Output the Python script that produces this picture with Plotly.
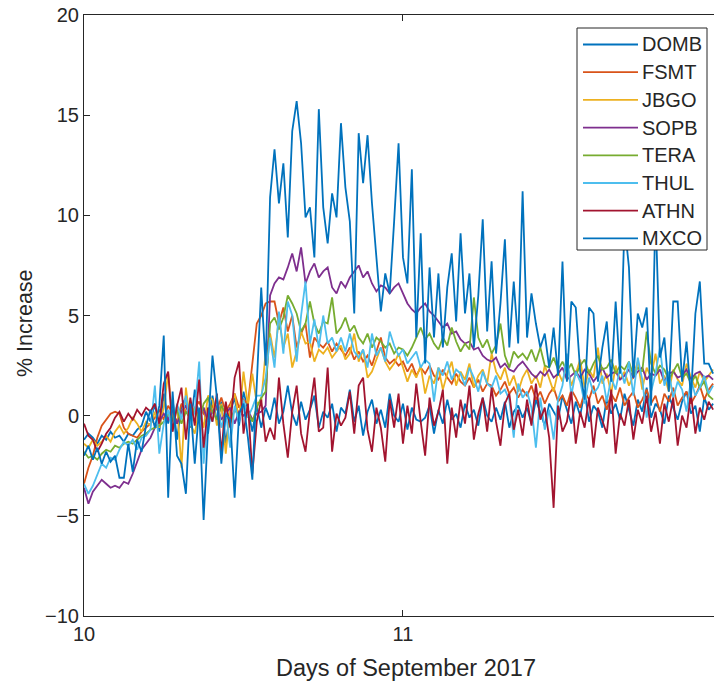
import numpy as np
import plotly.graph_objects as go

# Sampling grid: readings every 20 minutes starting at day 10
DAY0 = 10
SAMPLES_PER_DAY = 72

stations = ["DOMB", "FSMT", "JBGO", "SOPB", "TERA", "THUL", "ATHN", "MXCO"]
colors = ["#0072BD", "#D95319", "#EDB120", "#7E2F8E", "#77AC30", "#4DBEEE", "#A2142F", "#0072BD"]

x_ticks = [10, 11]
y_ticks = [-10, -5, 0, 5, 10, 15, 20]

# % increase per station
domb = [-1.2, -0.9, -1.1, -1.4, -1.0, -1.2, -0.8, -1.1, -1.0, -1.3, -0.9, -1.0, -0.7,
        -0.5, 0.2, -0.3, 0.6, -0.8, 1.1, -0.4, 0.8, -1.2, 0.5, 0.9, -0.6, 1.3, -0.2, 0.4, -0.9, 1.0,
        -0.3, 0.7, -1.4, 0.2, 0.9, -0.5, 1.2, 0.3, -0.8, 0.5,
        -0.6, 0.4, -0.2, 0.9, -0.4, 0.2, 1.5, 0.1, -0.5, 0.7, -0.2, 0.3, 1.0, -0.6, 0.2, -0.1, 0.6, -0.8, 0.4, 0.1,
        1.3, -0.3, 0.5, -1.0, 0.2, 0.8, -0.4, 0.3, -0.6, 1.1, 0.0, -0.3, 0.6, -0.7, 0.4, -0.2, -0.3, -0.1, 0.5, -0.9,
        0.3, -0.4, 0.8, -0.2, 0.1, -0.6, 0.6, -0.1, 0.3, -0.5, 0.9, 0.0, -0.3, 0.4, -0.2, 0.7, -0.6, 0.2, 0.5, -0.1,
        0.4, -0.4, 0.8, 0.1, -0.5, 0.6, 0.2, -0.2, 1.0, 0.3, -0.4, 0.7, 0.0, 1.2, -0.3, 0.5, 0.2, -0.6, 0.9, 0.1,
        0.6, -0.2, 1.1, 0.3, -0.5, 0.8, 0.2, 1.4, -0.1, 0.6, 0.3, -0.4, 1.0, 0.4, -0.2, 0.7, 1.2, 0.1, 0.5, -0.8,
        0.9, 0.3, 0.6]

fsmt = [-3.4, -2.6, -2.0, -1.1, -0.5, -0.2, 0.1, 0.2, 0.1, -0.6, -0.9, -1.0, -1.1, -0.8, -0.6,
        -0.4, -0.1, 0.3, -0.2, 0.5, 0.1, -0.3, 0.6, 0.2, -0.1, 0.4, 0.7, 0.1, -0.2, 0.5, 0.3, 0.9, 0.2, 0.6, 1.1,
        0.4, 0.8, 0.6, 2.6, 4.6,
        5.0, 5.6, 5.7, 5.7, 4.6, 5.4, 4.2, 5.0, 3.4, 4.1, 4.6, 2.9, 3.9, 3.6, 3.4, 3.7, 3.2, 3.6, 3.3, 3.0,
        3.4, 2.8, 3.2, 2.7, 3.0, 2.5, 3.2, 3.9, 2.9, 2.6,
        2.8, 2.5, 2.7, 2.2, 2.6, 2.0, 2.4, 2.1, 2.5, 2.0, 1.8, 2.3, 1.9, 1.6, 2.1, 1.7, 1.5, 1.9, 1.4, 1.8,
        1.2, 1.6, 1.5, 1.0, 1.3, 1.7, 1.1, 1.4, 0.9, 1.3,
        1.0, 1.5, 0.8, 1.2, 0.6, 1.1, 1.4, 0.7, 1.0, 0.5, 1.3, 0.9, 0.4, 1.2, 0.8, 1.5, 0.6, 1.0, 0.3, 1.1,
        0.7, 1.4, 0.5, 0.9, 1.2, 0.4, 0.8, 1.3, 0.6, 1.0, 0.2, 1.1, 0.7, 1.4, 0.5, 0.9, 1.2, 0.6, 1.0, 1.5,
        0.8, 1.3, 1.6]

jbgo = [-1.4, -1.6, -1.2, -1.5, -1.3, -1.0, -1.3, -0.8, -0.5, -0.9, -0.6, -0.1, -0.4, -0.8, -0.3,
        -0.5, 0.2, -0.6, 0.4, 2.1, -0.3, 0.5, -2.6, 1.4, -0.4, -0.9, 0.3, -0.6, 1.0, 0.8, -0.5, 0.6, -1.9, 0.4, 1.1,
        -0.2, 2.2, 0.5, 2.1, 0.6,
        0.7, 3.2, 4.1, 2.9, 4.9, 3.4, 4.1, 2.4, 3.2, 4.2, 3.6, 3.7, 2.7, 3.3, 3.1, 3.4, 2.9, 3.2, 3.5, 2.8,
        3.1, 4.1, 2.7, 3.3, 1.9, 2.2, 2.8, 3.4, 2.7, 2.3,
        2.6, 3.1, 2.4, 1.7, 2.3, 1.9, 2.5, 1.1, 2.0, 1.6, 2.4, 1.3, 2.1, 2.7, 1.5, 2.2, 1.8, 2.6, 1.4, 2.0,
        2.3, 1.6, 3.1, 2.2, 1.8, 2.4, 1.5, 2.0, 1.2, 1.9,
        2.3, 1.6, 2.0, 1.4, 2.5, 1.9, 1.2, 2.2, 1.7, 2.6, 1.5, 2.1, 2.8, 1.4, 2.3, 1.9, 3.4, 1.6, 2.1, 1.1,
        2.5, 1.8, 2.2, 1.5, 2.0, 2.7, 1.3, 2.4, 1.9, 3.1, 1.6, 2.0, 1.2, 2.3, 1.8, 1.5, 2.6, 1.9, 1.4, 2.2,
        1.7, 2.0, 2.3]

sopb = [-3.6, -4.4, -3.8, -3.5, -3.2, -3.4, -3.6, -3.5, -3.6, -3.3, -3.4, -2.9, -2.3, -1.7, -1.4,
        -1.1, -0.6, -0.3, 0.1, -0.2, 0.3, -0.4, 0.2, 0.5, -0.1, 0.3, 0.0, 0.4, -0.3, 0.2, 0.5, -0.2, 0.1, 0.4, -0.4,
        0.2, 0.0, 0.3, -0.2, 0.1,
        0.2, 0.5, 6.0, 6.6, 6.9, 6.8, 7.4, 8.1, 7.2, 8.4, 6.6, 7.2, 7.6, 6.9, 7.2, 7.4, 6.4, 6.1, 6.7, 6.4,
        6.9, 7.2, 7.5, 6.9, 7.2, 6.6, 6.2, 6.5, 6.4, 6.1,
        6.4, 6.6, 6.1, 5.6, 5.3, 5.1, 5.4, 5.6, 5.2, 5.0, 4.7, 4.4, 4.6, 4.1, 4.2, 3.8, 3.6, 3.7, 3.3, 3.4,
        3.0, 2.8, 2.7, 2.9, 2.4, 2.6, 2.3, 2.2, 2.5, 2.7,
        2.4, 2.1, 1.9, 2.2, 2.0, 2.3, 1.9, 2.1, 2.4, 1.8, 2.0, 2.2, 1.9, 2.3, 2.1, 1.7, 2.0, 2.4, 1.9, 2.1,
        2.2, 1.8, 2.0, 2.3, 1.9, 2.2, 2.4, 1.8, 2.1, 2.0, 2.3, 1.7, 2.1, 2.2, 1.9, 2.0, 2.3, 1.8, 2.1, 2.2,
        1.9, 2.0, 1.8]

tera = [-1.8, -2.1, -2.0, -2.2, -1.9, -1.7, -1.8, -1.5, -1.6, -1.4, -1.3, -1.4, -1.2, -1.0, -0.9,
        -0.7, -0.6, -0.5, -0.3, 0.1, -0.2, 0.3, -0.4, 0.2, -0.1, 0.4, -0.3, 0.6, 0.9, 0.2, -0.2, 0.5, 0.1, -0.4, 0.3,
        0.0, 0.6, 0.2, -0.3, 0.4,
        0.9, 1.2, 4.6, 4.9, 4.3, 4.9, 6.0, 5.6, 5.1, 4.2, 4.6, 5.7, 4.6, 4.1, 4.7, 4.6, 5.9, 4.1, 4.4, 4.9,
        4.2, 4.5, 3.9, 3.6, 4.1, 3.4, 3.9, 3.7, 3.4, 3.6,
        3.1, 3.4, 3.3, 3.0, 3.4, 3.9, 4.4, 3.8, 4.1, 3.6, 3.3, 3.9, 3.5, 4.4, 3.7, 3.2, 3.6, 3.3, 5.9, 3.9,
        3.4, 3.8, 3.1, 3.5, 4.6, 3.0, 2.4, 3.2, 2.9, 3.1,
        2.8, 3.3, 2.7, 3.4, 2.5, 2.4, 2.9, 2.3, 2.7, 2.2, 2.6, 2.0, 2.5, 2.8, 2.1, 2.6, 3.0, 2.3, 2.4, 2.8,
        2.1, 2.5, 2.3, 2.7, 2.0, 2.4, 2.2, 4.2, 2.6, 2.1, 2.5, 2.3, 1.8, 2.2, 2.6, 1.9, 2.1, 1.6, 2.0, 1.4,
        1.7, 1.0, 0.8]

thul = [-3.4, -3.9, -3.5, -2.9, -2.4, -2.6, -2.1, -2.2, -1.7, -1.3, -1.5, -1.2, -1.7, -1.1, -1.0,
        -0.7, 1.5, -1.9, -0.4, 0.3, -0.8, 0.6, -0.2, 1.0, -0.5, 0.2, 2.7, -2.4, 0.4, -0.3, 0.9, -0.6, 0.2, -1.6, 0.5,
        -0.3, 0.8, -0.1, 0.4, 1.0,
        1.0, 1.9, 3.9, 2.4, 5.2, 3.1, 5.7, 5.0, 2.7, 5.0, 6.7, 3.6, 4.8, 3.4, 5.0, 3.6, 3.9, 3.2, 3.9, 3.2,
        4.1, 3.2, 2.9, 3.3, 2.4, 4.1, 3.0, 3.4, 2.7, 4.2,
        3.5, 3.0, 3.3, 2.6, 2.9, 3.2, 2.4, 2.8, 2.6, 0.7, 2.4, 2.0, 2.7, 1.8, 2.3, 2.1, 1.5, 2.4, 1.9, 1.2,
        2.2, 1.6, 1.4, 2.0, 1.1, 1.3, 0.8, -1.1, 1.6, 0.9,
        1.2, 0.4, -1.6, 0.9, -0.7, 0.3, -1.2, 0.8, 1.5, 3.1, 1.0, 2.2, 1.7, 0.6, 1.9, 1.1, 1.4, 2.0, 0.7, 1.9,
        1.3, 2.4, 1.6, 2.7, 1.0, 2.9, 1.8, -0.1, 1.2, 2.1, 3.4, 1.5, 2.2, 0.9, 1.7, 1.3, 0.2, 1.8, 1.0, 1.4,
        2.0, 1.1, 1.5]

athn = [-0.4, -1.0, -1.2, -1.8, -1.4, -0.9, -0.6, -0.1, 0.2, -0.3, 0.1, -0.2, 0.3, 0.0, 0.4,
        0.2, 0.6, -0.4, 1.6, 2.2, -0.8, 0.5, 1.4, -1.2, 0.9, -0.5, 1.8, -1.6, 0.4, -0.3, 1.1, -1.9, 0.7, -0.6, 1.9,
        2.7, -0.9, 0.6, -2.9, -0.3,
        0.8, -1.3, -0.6, -1.2, 1.9, -0.4, -2.1, 0.2, 1.5, -0.9, -1.8, 0.3, 1.9, -0.8, -0.6, 2.4, -1.8, 0.1, -0.5, -0.1,
        1.2, -0.9, 1.5, 1.9, -0.7, -1.8, 0.4, -0.6, -2.3, 0.8,
        -0.6, 1.1, -1.4, 0.5, -0.9, 1.6, -0.3, -2.0, 0.9, -0.5, 0.2, 1.3, -2.4, 0.4, -1.1, 0.8, -0.4, 1.5, -1.2, 0.1,
        0.9, -0.8, 1.4, -0.3, -1.5, 0.6, 1.1, -0.7, 0.3, -1.0,
        0.8, -0.5, 1.6, -0.2, 0.4, -1.1, -4.6, 0.5, -0.8, -0.3, 1.2, -1.4, 0.2, -0.6, 0.9, -1.6, 0.4, -0.2, -0.9, 1.3,
        -1.9, 0.1, -0.5, 0.8, -1.2, 0.3, -0.4, 1.0, -0.8, 0.2, -1.4, 0.6, -0.3, 0.9, -1.5, 0.0, -0.6, 1.1, -0.9, 0.4,
        -0.2, 0.7, 0.3]

mxco = [-2.0, -1.5, -2.2, -1.6, -2.4, -1.8, -2.3, -2.0, -3.1, -3.1, -1.4, -2.8, -1.2, -1.8, -0.5,
        0.3, -0.6, 0.5, 4.0, -4.1, 1.2, -2.0, -2.4, -3.9, 0.6, -2.4, 0.4, -5.2, -0.6, 3.0, 0.9, -2.4, 0.1, -0.2, -4.1,
        0.1, 0.6, -1.1, -3.2, 1.5,
        6.4, 2.5, 10.9, 13.3, 10.6, 12.6, 8.9, 14.2, 15.7, 13.6, 9.9, 10.4, 7.9, 15.3, 10.4, 8.6, 11.1, 9.9, 14.6, 11.4,
        9.7, 5.1, 14.1, 11.6, 14.0, 10.6, 7.9, 5.2, 7.1, 6.1,
        9.7, 13.6, 7.9, 6.6, 12.3, 3.9, 9.1, 2.6, 7.4, 3.9, 7.1, 3.4, 6.4, 8.1, 4.7, 9.1, 5.1, 7.1, 3.4, 6.0,
        9.8, 4.2, 7.7, 3.1, 5.6, 8.8, 3.4, 6.7, 3.6, 11.2,
        3.9, 6.1, 4.6, 3.4, 4.1, 2.4, 4.4, 2.0, 7.7, 1.7, 5.7, 5.4, 2.2, 0.8, 5.4, 5.1, 1.7, 3.4, 4.7, 1.7,
        5.7, 2.1, 9.6, 7.4, 1.9, 5.1, 4.4, 5.4, 0.5, 10.2, 2.9, 3.9, 1.2, 5.7, 5.7, 1.7, 3.7, 0.9, 5.1, 6.7,
        2.6, 2.6, 2.1]

series = [domb, fsmt, jbgo, sopb, tera, thul, athn, mxco]

AX_COLOR = "#262626"
FONT = "Liberation Sans, Arial, Helvetica, sans-serif"

# Figure geometry (pixels)
W, H = 715, 692
ML, MR, MT, MB = 84, 1, 15, 76
PW, PH = W - ML - MR, H - MT - MB


def px_x(px):
    return (px - ML) / PW


def px_y(py):
    return (H - MB - py) / PH


fig = go.Figure()
for name, color, values in zip(stations, colors, series):
    days = DAY0 + np.arange(len(values)) / SAMPLES_PER_DAY
    fig.add_trace(go.Scatter(
        x=days, y=values, mode="lines", name=name,
        line=dict(color=color, width=1.8), showlegend=False,
    ))

# Legend box drawn in the upper-right corner of the axes
shapes = [dict(type="rect", xref="paper", yref="paper",
               x0=px_x(577), x1=px_x(707), y0=px_y(250), y1=px_y(28),
               line=dict(color=AX_COLOR, width=1), fillcolor="white", layer="above")]
annotations = []
for k, (name, color) in enumerate(zip(stations, colors)):
    row = 44.5 + 27.7 * k
    shapes.append(dict(type="line", xref="paper", yref="paper",
                       x0=px_x(583), x1=px_x(638), y0=px_y(row), y1=px_y(row),
                       line=dict(color=color, width=1.8), layer="above"))
    annotations.append(dict(text=name, xref="paper", yref="paper",
                            x=px_x(640), y=px_y(row), xanchor="left", yanchor="middle",
                            showarrow=False, font=dict(family=FONT, size=20, color=AX_COLOR)))

# Axis titles
annotations.append(dict(text="Days of September 2017", xref="paper", yref="paper",
                        x=px_x(406), y=px_y(668), xanchor="center", yanchor="middle",
                        showarrow=False, font=dict(family=FONT, size=23.5, color=AX_COLOR)))
annotations.append(dict(text="% Increase", xref="paper", yref="paper",
                        x=px_x(25), y=px_y(323), xanchor="center", yanchor="middle",
                        textangle=-90, showarrow=False,
                        font=dict(family=FONT, size=21.5, color=AX_COLOR)))

fig.update_layout(
    width=W, height=H,
    margin=dict(l=ML, r=MR, t=MT, b=MB),
    paper_bgcolor="white", plot_bgcolor="white",
    font=dict(family=FONT, color=AX_COLOR, size=20),
    showlegend=False,
    shapes=shapes,
    annotations=annotations,
)

fig.update_xaxes(
    range=[10, 11.975], tickvals=x_ticks, ticktext=[str(t) for t in x_ticks],
    showline=True, linecolor=AX_COLOR, linewidth=1, mirror="ticks",
    ticks="inside", ticklen=6, tickcolor=AX_COLOR,
    showgrid=False, zeroline=False,
    tickfont=dict(size=20, color=AX_COLOR),
)
fig.update_yaxes(
    range=[-10, 20], tickvals=y_ticks,
    ticktext=[str(t).replace("-", "\u2212") for t in y_ticks],
    showline=True, linecolor=AX_COLOR, linewidth=1, mirror=False,
    ticks="inside", ticklen=6, tickcolor=AX_COLOR,
    showgrid=False, zeroline=False,
    tickfont=dict(size=20, color=AX_COLOR),
)

fig.write_html("out.html")
